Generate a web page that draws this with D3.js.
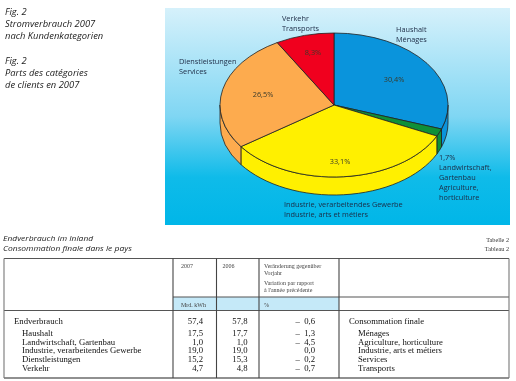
<!DOCTYPE html>
<html>
<head>
<meta charset="utf-8">
<script src="https://cdn.jsdelivr.net/npm/d3@7"></script>
<style>
  html, body { margin: 0; padding: 0; background: #fff; }
  svg { display: block; filter: blur(0.3px); }
  .sans { font-family: "Open Sans", sans-serif; }
  .serif { font-family: "Liberation Serif", serif; }
</style>
</head>
<body>
<div id="chart"></div>
<script>
const categories = ["Haushalt", "Landwirtschaft", "Industrie", "Dienstleistungen", "Verkehr"];
const shares = [30.4, 1.7, 33.1, 26.5, 8.3];
const shareLabels = ["30,4%", "1,7%", "33,1%", "26,5%", "8,3%"];
const colors = ["#0a94dc", "#0f9038", "#fff000", "#fdab4e", "#f0001e"];

const figTitle = ["Fig. 2", "Stromverbrauch 2007", "nach Kundenkategorien", "", "Fig. 2", "Parts des catégories", "de clients en 2007"];
const tableTitle = ["Endverbrauch im Inland", "Consommation finale dans le pays"];
const tableRef = ["Tabelle 2", "Tableau 2"];

const rowsDe = ["Endverbrauch", "Haushalt", "Landwirtschaft, Gartenbau", "Industrie, verarbeitendes Gewerbe", "Dienstleistungen", "Verkehr"];
const rowsFr = ["Consommation finale", "Ménages", "Agriculture, horticulture", "Industrie, arts et métiers", "Services", "Transports"];
const values2007 = ["57,4", "17,5", "1,0", "19,0", "15,2", "4,7"];
const values2006 = ["57,8", "17,7", "1,0", "19,0", "15,3", "4,8"];
const changes = ["–\u00a0\u00a00,6", "–\u00a0\u00a01,3", "–\u00a0\u00a04,5", "0,0", "–\u00a0\u00a00,2", "–\u00a0\u00a00,7"];

const width = 516, height = 381;
const svg = d3.select("#chart").append("svg").attr("width", width).attr("height", height);

const defs = svg.append("defs");
const grad = defs.append("linearGradient").attr("id", "bg").attr("x1", 0).attr("x2", 0).attr("y1", 0).attr("y2", 1);
grad.append("stop").attr("offset", "0%").attr("stop-color", "#d6f1fb");
grad.append("stop").attr("offset", "50%").attr("stop-color", "#7fd6f3");
grad.append("stop").attr("offset", "78%").attr("stop-color", "#0fbbe9");
grad.append("stop").attr("offset", "100%").attr("stop-color", "#00b6e8");

svg.append("rect").attr("x", 165).attr("y", 8).attr("width", 345).attr("height", 217).attr("fill", "url(#bg)");

// title
svg.append("g").selectAll("text").data(figTitle).enter().append("text")
  .attr("class", "sans").attr("x", 5).attr("y", (d, i) => 15 + i * 12.2)
  .attr("font-size", 9.4).attr("font-style", "italic").attr("fill", "#222")
  .text(d => d);

// pie
const cx = 334, cy = 105, rx = 114, ry = 72, depth = 18;
const pie = d3.pie().sort(null)(shares);
const sx = a => cx + rx * Math.sin(a);
const sy = a => cy - ry * Math.cos(a);

const side = svg.append("g");
pie.forEach((p, i) => {
  const a0 = Math.max(p.startAngle, Math.PI / 2);
  const a1 = Math.min(p.endAngle, Math.PI * 1.5);
  if (a1 <= a0) return;
  const large = a1 - a0 > Math.PI ? 1 : 0;
  side.append("path")
    .attr("d", "M" + sx(a0) + "," + sy(a0)
      + "A" + rx + "," + ry + " 0 " + large + " 1 " + sx(a1) + "," + sy(a1)
      + "L" + sx(a1) + "," + (sy(a1) + depth)
      + "A" + rx + "," + ry + " 0 " + large + " 0 " + sx(a0) + "," + (sy(a0) + depth) + "Z")
    .attr("fill", colors[i]).attr("stroke", "#222").attr("stroke-width", 0.8);
});

const arc = d3.arc().innerRadius(0).outerRadius(1);
svg.append("g").attr("transform", "translate(" + cx + "," + cy + ") scale(" + rx + "," + ry + ")")
  .selectAll("path").data(pie).enter().append("path")
  .attr("d", arc).attr("fill", (d, i) => colors[i])
  .attr("stroke", "#222").attr("stroke-width", 0.8).attr("vector-effect", "non-scaling-stroke");

// the chart labels are a condensed face, so squeeze them sideways
const squeezed = (x, y, t, anchor, fill) => svg.append("text").attr("class", "sans")
  .attr("transform", "translate(" + x + "," + y + ") scale(0.93,1)")
  .attr("text-anchor", anchor).attr("font-size", 7.9).attr("fill", fill).text(t);

// labels on the pie
const labelPos = [[394, 81.5], null, [340, 164], [263, 97], [313, 55]];
pie.forEach((p, i) => {
  if (!labelPos[i]) return;
  squeezed(labelPos[i][0], labelPos[i][1], shareLabels[i], "middle", "#3a3a2a");
});

const pieLabels = [
  { x: 282, y: 21, lines: ["Verkehr", "Transports"] },
  { x: 179, y: 64, lines: ["Dienstleistungen", "Services"] },
  { x: 396, y: 32, lines: ["Haushalt", "Ménages"] },
  { x: 284, y: 206.7, lines: ["Industrie, verarbeitendes Gewerbe", "Industrie, arts et métiers"] },
  { x: 439, y: 160, lines: ["1,7%", "Landwirtschaft,", "Gartenbau", "Agriculture,", "horticulture"] }
];
pieLabels.forEach(l => {
  l.lines.forEach((t, i) => squeezed(l.x, l.y + i * 10.1, t, "start", "#1c2a44"));
});

// table head
tableTitle.forEach((t, i) => svg.append("text").attr("class", "sans")
  .attr("transform", "translate(3," + (241.2 + i * 9.6) + ") scale(1.09,1)")
  .attr("font-size", 7.8).attr("font-style", "italic").attr("fill", "#222").text(t));
svg.append("g").selectAll("text").data(tableRef).enter().append("text")
  .attr("class", "serif").attr("x", 509).attr("y", (d, i) => 242 + i * 8.6)
  .attr("text-anchor", "end").attr("font-size", 6.2).attr("fill", "#333").text(d => d);

// table frame
const colX = [4, 173, 216.5, 259, 339, 509];
const tableTop = 258.5, unitTop = 297, unitBottom = 310.5, tableBottom = 378;
svg.append("rect").attr("x", colX[1]).attr("y", unitTop).attr("width", colX[4] - colX[1]).attr("height", unitBottom - unitTop).attr("fill", "#c5e9f8");

const grid = svg.append("g").attr("stroke", "#555").attr("stroke-width", 1.1);
[tableTop, unitBottom].forEach(y => grid.append("line").attr("x1", colX[0]).attr("x2", colX[5]).attr("y1", y).attr("y2", y));
grid.append("line").attr("x1", colX[1]).attr("x2", colX[5]).attr("y1", unitTop).attr("y2", unitTop);
grid.append("line").attr("x1", colX[0]).attr("x2", colX[5]).attr("y1", tableBottom).attr("y2", tableBottom).attr("stroke", "#222");
colX.forEach((x, i) => grid.append("line").attr("x1", x).attr("x2", x).attr("y1", tableTop).attr("y2", tableBottom).attr("stroke", i === 0 || i === 5 ? "#777" : "#444"));

const small = (x, y, t) => svg.append("text").attr("class", "serif").attr("x", x).attr("y", y)
  .attr("font-size", 6).attr("fill", "#444").text(t);
small(181, 268, "2007");
small(222.5, 268, "2006");
small(264, 268, "Veränderung gegenüber");
small(264, 275, "Vorjahr");
small(264, 285, "Variation par rapport");
small(264, 292, "à l'année précédente");
small(181, 307, "Mrd. kWh");
small(264, 307, "%");

const rowY = [323.7, 335.7, 344.5, 353, 362, 370.7];
const bodyText = (data, x, anchor) => svg.append("g").selectAll("text").data(data).enter().append("text")
  .attr("class", "serif").attr("x", (d, i) => typeof x === "function" ? x(i) : x).attr("y", (d, i) => rowY[i])
  .attr("text-anchor", anchor).attr("font-size", 8.7).attr("fill", "#111").text(d => d);

bodyText(rowsDe, i => i === 0 ? 14 : 22, "start");
bodyText(values2007, 203, "end");
bodyText(values2006, 247.5, "end");
bodyText(changes, 315, "end");
bodyText(rowsFr, i => i === 0 ? 349 : 358, "start");
</script>
</body>
</html>
